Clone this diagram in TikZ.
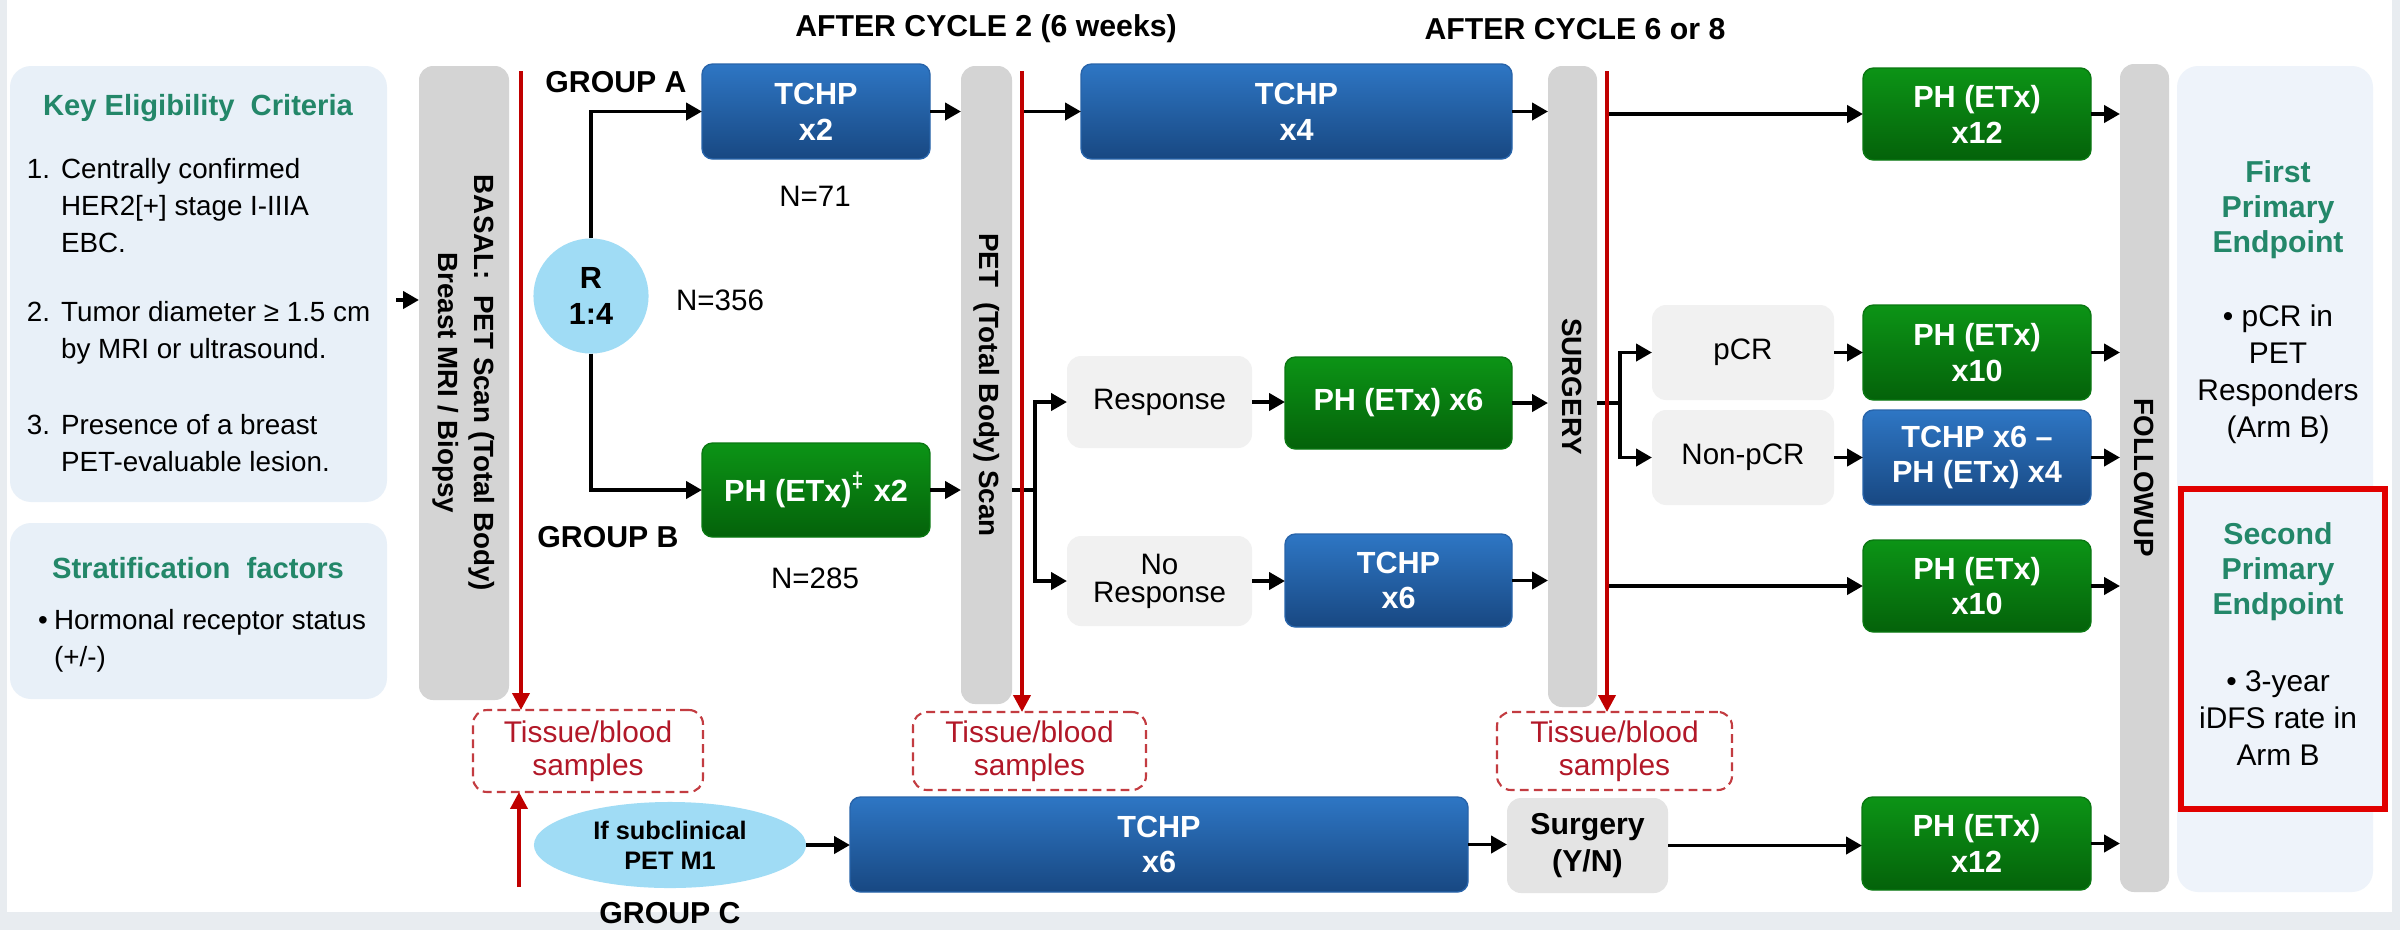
\documentclass[tikz,border=0pt]{standalone}
\usepackage{fontspec}
\setmainfont{Liberation Sans}
\usepackage{graphicx}
\usetikzlibrary{arrows.meta,shapes.geometric,calc}

\definecolor{panel}{RGB}{232,240,248}
\definecolor{panelR}{RGB}{238,243,250}
\definecolor{framec}{RGB}{232,236,240}
\definecolor{barg}{RGB}{212,212,212}
\definecolor{lightg}{RGB}{241,241,241}
\definecolor{surgg}{RGB}{228,228,228}
\definecolor{bluetop}{RGB}{46,118,196}
\definecolor{bluebot}{RGB}{24,72,130}
\definecolor{blueedge}{RGB}{40,100,170}
\definecolor{greentop}{RGB}{12,148,22}
\definecolor{greenbot}{RGB}{4,98,10}
\definecolor{greenedge}{RGB}{10,120,18}
\definecolor{skyb}{RGB}{160,220,245}
\definecolor{redl}{RGB}{192,0,0}
\definecolor{redt}{RGB}{178,24,40}
\definecolor{redd}{RGB}{195,60,65}
\definecolor{redbox}{RGB}{225,0,0}
\definecolor{tealg}{RGB}{35,135,105}

\newcommand{\fs}[2]{\fontsize{#1}{#2}\selectfont}
\newcommand{\mybox}[7]{\node[#2, minimum width={(#5-#3)*0.01cm}, minimum height={(#6-#4)*0.01cm}] (#1) at ({(#3+#5)/2},{(#4+#6)/2}) {#7};}

\tikzset{
  every node/.style={inner sep=0pt, outer sep=0pt},
  arr/.style={line width=1.1pt, -{Triangle[length=4.5pt,width=4.8pt]}},
  ln/.style={line width=1.1pt},
  redarr/.style={draw=redl, line width=1.1pt, -{Triangle[length=4.8pt,width=4.8pt]}},
  panelbox/.style={fill=panel, rounded corners=6pt},
  rpanel/.style={fill=panelR, rounded corners=6pt},
  bar/.style={fill=barg, rounded corners=4pt, font=\bfseries\fs{7.9}{10.2}},
  bluebox/.style={rounded corners=3pt, top color=bluetop, bottom color=bluebot, draw=blueedge, line width=0.4pt, text=white, font=\bfseries\fs{8.7}{10.2}, align=center},
  greenbox/.style={rounded corners=3pt, top color=greentop, bottom color=greenbot, draw=greenedge, line width=0.4pt, text=white, font=\bfseries\fs{8.7}{10.2}, align=center},
  lightbox/.style={fill=lightg, rounded corners=4pt, font=\fs{8.4}{8}, align=center},
  sybox/.style={fill=surgg, rounded corners=4pt, font=\bfseries\fs{8.6}{10.5}, align=center},
  tissue/.style={draw=redd, dash pattern=on 2.5pt off 1.5pt, line width=0.6pt, rounded corners=4pt, text=redt, font=\fs{8.5}{9.4}, align=center},
  lbl/.style={font=\bfseries\fs{8.6}{10}},
  ntext/.style={font=\fs{8.4}{10}},
  gtitle/.style={text=tealg, font=\bfseries\fs{8.3}{10}},
  crit/.style={font=\fs{7.9}{10.5}, anchor=west},
  gtxt/.style={text=tealg, font=\bfseries\fs{8.6}{10}, align=center},
  btxt/.style={font=\fs{8.5}{10.5}, align=center},
}

\begin{document}
\begin{tikzpicture}[x=0.01cm,y=-0.01cm]
\useasboundingbox (0,0) rectangle (2400,930);
\fill[framec] (0,0) rectangle (2400,930);
\fill[white] (7,0) rectangle (2392,912);

% left panels
\mybox{keyp}{panelbox}{10}{66}{387}{502}{}
\mybox{strp}{panelbox}{10}{523}{387}{699}{}
\node[gtitle] (kt) at (198,108) {Key Eligibility~ Criteria};
\node[crit] (k1) at (27,208) {\begin{tabular}{@{}p{9.7pt}@{}l@{}}1.&Centrally confirmed\\&HER2[+] stage I-IIIA\\&EBC.\end{tabular}};
\node[crit] (k2) at (27,333) {\begin{tabular}{@{}p{9.7pt}@{}l@{}}2.&Tumor diameter ≥ 1.5 cm\\&by MRI or ultrasound.\end{tabular}};
\node[crit] (k3) at (27,446) {\begin{tabular}{@{}p{9.7pt}@{}l@{}}3.&Presence of a breast\\&PET-evaluable lesion.\end{tabular}};
\node[gtitle] (st) at (198,568) {Stratification~ factors};
\node[crit] (s1) at (38,641) {\begin{tabular}{@{}p{4.6pt}@{}l@{}}\textbullet&Hormonal receptor status\\&(+/-)\end{tabular}};

% headers
\node[lbl] (h1) at (986,29) {AFTER CYCLE 2 (6 weeks)};
\node[lbl] (h2) at (1575,29) {AFTER CYCLE 6 or 8};

% vertical bars
\mybox{basal}{bar}{419}{66}{509}{700}{\rotatebox{-90}{\begin{tabular}{@{}c@{}}BASAL:\ \ PET Scan (Total Body)\\Breast MRI / Biopsy\end{tabular}}}
\mybox{pet}{bar}{961}{66}{1012}{704}{\rotatebox{-90}{PET\ \ (Total Body) Scan}}
\mybox{surg}{bar}{1548}{66}{1597}{707}{\rotatebox{-90}{SURGERY}}
\mybox{fup}{bar}{2120}{64}{2169}{892}{\rotatebox{-90}{FOLLOWUP}}

\coordinate (a0) at (396,300);
\draw[arr] (a0) -- (a0 -| basal.west);

% randomisation
\node[circle, fill=skyb, minimum size=1.15cm, align=center, font=\bfseries\fs{8.7}{10.2}] (R) at (591,296) {R\\1:4};
\node[lbl] (gA) at (616,82) {GROUP A};
\node[lbl] (gB) at (608,537) {GROUP B};
\node[lbl] (gC) at (670,913) {GROUP C};
\node[ntext] (n356) at (720,300) {N=356};
\node[ntext] (n71) at (815,196) {N=71};
\node[ntext] (n285) at (815,578) {N=285};

% treatment boxes
\mybox{tA}{bluebox}{702}{64}{930}{159}{TCHP\\x2}
\mybox{pB}{greenbox}{702}{443}{930}{537}{PH (ETx)\textsuperscript{‡} x2}
\mybox{t4}{bluebox}{1081}{64}{1512}{159}{TCHP\\x4}
\mybox{resp}{lightbox}{1067}{356}{1252}{448}{Response}
\mybox{nresp}{lightbox}{1067}{536}{1252}{626}{No\\Response}
\mybox{ph6}{greenbox}{1285}{357}{1512}{449}{PH (ETx) x6}
\mybox{tc6}{bluebox}{1285}{534}{1512}{627}{TCHP\\x6}
\mybox{ph12a}{greenbox}{1863}{68}{2091}{160}{PH (ETx)\\x12}
\mybox{pcr}{lightbox}{1652}{305}{1834}{400}{pCR}
\mybox{npcr}{lightbox}{1652}{410}{1834}{505}{Non-pCR}
\mybox{ph10a}{greenbox}{1863}{305}{2091}{400}{PH (ETx)\\x10}
\mybox{tp4}{bluebox}{1863}{410}{2091}{505}{TCHP x6 --\\PH (ETx) x4}
\mybox{ph10b}{greenbox}{1863}{540}{2091}{632}{PH (ETx)\\x10}

% group C row
\node[ellipse, fill=skyb, minimum width=2.72cm, minimum height=0.86cm, align=center, font=\bfseries\fs{7.2}{8.6}] (ell) at (670,845) {If subclinical\\PET M1};
\mybox{tb6}{bluebox}{850}{797}{1468}{892}{TCHP\\x6}
\mybox{sy}{sybox}{1507}{798}{1668}{893}{Surgery\\(Y/N)}
\mybox{ph12b}{greenbox}{1862}{797}{2091}{890}{PH (ETx)\\x12}

% tissue boxes
\mybox{t1}{tissue}{473}{710}{703}{792}{Tissue/blood\\samples}
\mybox{t2}{tissue}{913}{712}{1146}{790}{Tissue/blood\\samples}
\mybox{t3}{tissue}{1497}{712}{1732}{790}{Tissue/blood\\samples}

% right panel
\mybox{rp}{rpanel}{2177}{66}{2373}{892}{}
\mybox{rr}{draw=redbox, fill=panelR, line width=1.7pt}{2181}{489}{2385}{809}{}
\node[gtxt] (e1) at (2278,210) {First\\Primary\\Endpoint};
\node[btxt] (e1b) at (2278,374) {\textbullet\ pCR in\\PET\\Responders\\(Arm B)};
\node[gtxt] (e2) at (2278,572) {Second\\Primary\\Endpoint};
\node[btxt] (e2b) at (2278,718) {\textbullet\ 3-year\\iDFS rate in\\Arm B};

% connectors
\coordinate (r1t) at (521,71);
\coordinate (r2t) at (1022,71);
\coordinate (r3t) at (1607,71);
\coordinate (r1b) at (519,887);
\coordinate (b1) at (1035,490);
\coordinate (b2) at (1620,403);

\draw[arr] (R.north) |- (tA.west);
\draw[arr] (R.south) |- (pB.west);
\draw[arr] (tA.east) -- (tA.east -| pet.west);
\draw[arr] (pB.east) -- (pB.east -| pet.west);
\draw[arr] (r2t |- t4.west) -- (t4.west);
\draw[arr] (t4.east) -- (t4.east -| surg.west);
\draw[ln] (pB.east -| pet.east) -- (b1);
\draw[arr] (b1) |- (resp.west);
\draw[arr] (b1) |- (nresp.west);
\draw[arr] (resp.east) -- (resp.east -| ph6.west);
\draw[arr] (nresp.east) -- (nresp.east -| tc6.west);
\draw[arr] (ph6.east) -- (ph6.east -| surg.west);
\draw[arr] (tc6.east) -- (tc6.east -| surg.west);
\draw[arr] (r3t |- ph12a.west) -- (ph12a.west);
\draw[ln] (ph6.east -| surg.east) -- (b2);
\draw[arr] (b2) |- (pcr.west);
\draw[arr] (b2) |- (npcr.west);
\draw[arr] (pcr.east) -- (pcr.east -| ph10a.west);
\draw[arr] (npcr.east) -- (npcr.east -| tp4.west);
\draw[arr] (r3t |- ph10b.west) -- (ph10b.west);
\foreach \n in {ph12a,ph10a,tp4,ph10b,ph12b} \draw[arr] (\n.east) -- (\n.east -| fup.west);
\draw[arr] (ell.east) -- (ell.east -| tb6.west);
\draw[arr] (tb6.east) -- (tb6.east -| sy.west);
\draw[arr] (sy.east) -- (sy.east -| ph12b.west);

% red sampling lines
\draw[redarr] (r1t) -- (r1t |- t1.north);
\draw[redarr] (r2t) -- (r2t |- t2.north);
\draw[redarr] (r3t) -- (r3t |- t3.north);
\draw[redarr] (r1b) -- (r1b |- t1.south);
\end{tikzpicture}
\end{document}
